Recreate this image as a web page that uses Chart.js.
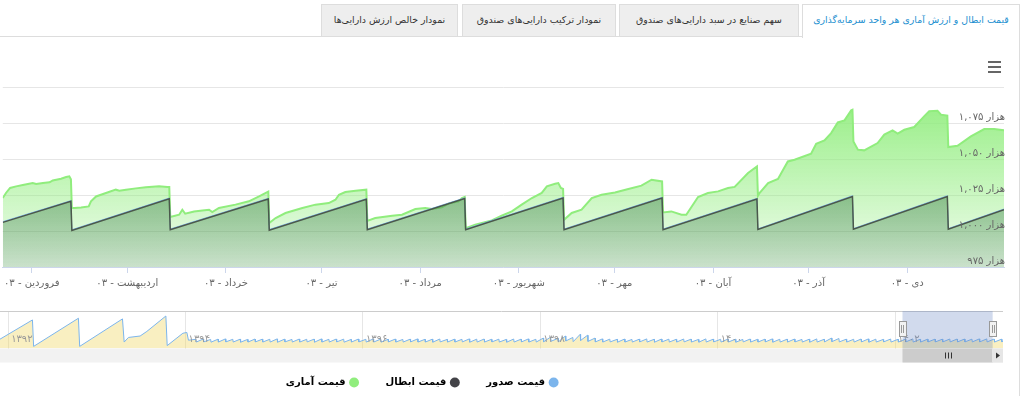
<!DOCTYPE html>
<html lang="fa">
<head>
<meta charset="utf-8">
<title>قیمت ابطال و ارزش آماری هر واحد سرمایه‌گذاری</title>
<script src="https://cdn.jsdelivr.net/npm/chart.js@4.4.1/dist/chart.umd.min.js"></script>
<style>
  html, body { margin: 0; padding: 0; background: #fff; }
  body { width: 1024px; height: 396px; position: relative; overflow: hidden; font-family: "DejaVu Sans", sans-serif; }
  .tabline { position: absolute; left: 0; top: 36px; width: 802px; border-top: 1px solid #ddd; }
  .tab { position: absolute; top: 4px; height: 32px; line-height: 30px; box-sizing: border-box;
         background: #eee; border: 1px solid #ddd; border-bottom: none; font-size: 9.4px; color: #333;
         text-align: center; direction: rtl; white-space: nowrap; }
  .tab.active { background: #fff; color: #1d8fd0; height: 34px; }
  .frame { position: absolute; left: 1019px; top: 36px; height: 360px; border-left: 1px solid #ddd; }
  .menu { position: absolute; left: 988px; top: 61px; width: 13px; }
  .menu span { display: block; height: 2px; background: #666; margin-bottom: 3px; }
  #main { position: absolute; left: 0; top: 40px; }
  #nav { position: absolute; left: -160px; top: 305px; }
</style>
</head>
<body>
<div class="tabline"></div>
<div class="tab" style="left:321px;width:137px;">نمودار خالص ارزش دارایی‌ها</div>
<div class="tab" style="left:462px;width:154px;">نمودار ترکیب دارایی‌های صندوق</div>
<div class="tab" style="left:619px;width:180px;">سهم صنایع در سبد دارایی‌های صندوق</div>
<div class="tab active" style="left:802px;width:218px;">قیمت ابطال و ارزش آماری هر واحد سرمایه‌گذاری</div>
<div class="frame"></div>
<div class="menu"><span></span><span></span><span></span></div>
<canvas id="main" width="1010" height="260"></canvas>
<canvas id="nav" width="1164" height="91"></canvas>
<script>
// روزها از ۱ آوریل ۲۰۲۴ (۱۲ فروردین ۱۴۰۳)
const tickDays = [0, 30, 61, 91, 122, 153, 183, 214, 244, 275];
const monthLabels = ["فروردین - ۰۳", "اردیبهشت - ۰۳", "خرداد - ۰۳", "تیر - ۰۳", "مرداد - ۰۳",
  "شهریور - ۰۳", "مهر - ۰۳", "آبان - ۰۳", "آذر - ۰۳", "دی - ۰۳"];

const seriesNames = ["قیمت صدور", "قیمت ابطال", "قیمت آماری"];
const seriesColors = ["#7cb5ec", "#434348", "#90ed7d"];

// قیمت ابطال و صدور (هزار ریال)
const redDays = [-9.1, 12.3, 12.6, 43.2, 43.5, 74.3, 74.6, 105.1, 105.4, 136.0, 136.3,
  166.9, 167.2, 198.0, 198.3, 227.8, 228.1, 257.8, 258.1, 287.6, 287.9, 305.4];
const redValues = [1006, 1020.6, 1000.4, 1022.4, 1000.9, 1022.2, 1000.6, 1022, 1000.9, 1022.5, 1000.9,
  1022.9, 1000.9, 1022.9, 1000.9, 1022.2, 1001, 1024, 1001.2, 1024, 1001.2, 1014.8];
const issueValues = [1006.5, 1021.1, 1000.9, 1022.9, 1001.4, 1022.7, 1001.1, 1022.5, 1001.4, 1023, 1001.4,
  1023.4, 1001.4, 1023.4, 1001.4, 1022.7, 1001.5, 1024.5, 1001.7, 1024.5, 1001.7, 1015.3];

// قیمت آماری
const statDays = [
  -9.1, -8.1, -6.8, -4.9, -2.8, 0.3, 1.4, 3.5, 5.6, 6.6, 9.2, 10.8, 11.8, 12.3,
  12.6, 13.4, 15.5, 17.9, 18.6, 20.2, 23.3, 26.4, 27.5, 29.6, 32.7, 35.8, 40.0, 42.6, 43.2,
  43.5, 46.3, 47.3, 48.2, 51.0, 53.6, 55.7, 56.7, 58.8, 64.0, 68.2, 71.4, 74.3,
  74.6, 76.6, 79.7, 85.0, 89.1, 93.3, 95.4, 96.5, 98.5, 101.7, 105.1,
  105.4, 107.9, 113.2, 116.3, 120.5, 123.6, 125.7, 128.8, 130.9, 134.1, 135.1, 136.0,
  136.3, 139.3, 144.5, 147.6, 150.8, 153.9, 157.1, 160.2, 161.8, 164.4, 165.4, 166.2, 166.9,
  167.2, 169.6, 172.7, 175.9, 179.0, 183.2, 187.4, 191.5, 194.7, 198.0,
  198.3, 200.9, 204.1, 205.6, 209.3, 212.4, 215.6, 218.7, 220.8, 225.0, 227.8,
  228.1, 228.6, 231.3, 234.4, 237.5, 239.6, 244.8, 246.4, 249.0, 251.1, 253.2, 255.3, 257.4, 257.8,
  258.1, 259.5, 261.5, 265.7, 267.8, 270.4, 272.0, 274.1, 277.2, 280.3, 281.9, 284.5, 285.6, 287.6,
  287.9, 290.8, 295.0, 299.2, 302.3, 305.4];
const statValues = [
  1022.9, 1026.4, 1029.9, 1031, 1031.9, 1033.3, 1032.6, 1033.3, 1033.8, 1035.1, 1036.3, 1037.5, 1038, 1036,
  1016, 1016, 1016.4, 1017.1, 1020.6, 1024, 1026.4, 1028.7, 1028, 1028.7, 1029.6, 1030.3, 1031, 1030.6, 1030.6,
  1009.7, 1011.3, 1014.8, 1012, 1013.6, 1014.3, 1014.8, 1013.2, 1016, 1018.3, 1020.6, 1024, 1027.3,
  1005.6, 1009, 1012.5, 1016, 1018.3, 1019.4, 1021.7, 1025.2, 1027.1, 1028, 1028.7,
  1007, 1009, 1010.6, 1011.3, 1015.3, 1016, 1015.3, 1016.4, 1019, 1020.6, 1022.9, 1023.6,
  1002, 1004.4, 1007.4, 1010.6, 1013.6, 1018.3, 1022.9, 1026.4, 1031, 1032.8, 1033.3, 1029.9, 1029.2,
  1007.8, 1012.5, 1014.8, 1022.9, 1025.2, 1026.8, 1029.2, 1031.5, 1035.6, 1034.4,
  1012.9, 1013.6, 1011.3, 1011.3, 1023.6, 1026.4, 1027.5, 1029.9, 1030.6, 1040.3, 1044.9,
  1024.5, 1026.4, 1033.3, 1036.1, 1048.3, 1049.5, 1053.7, 1060.6, 1062.9, 1068, 1075.4, 1076.8, 1083.8, 1084.2,
  1062.2, 1056.5, 1056, 1061.1, 1066.9, 1069.9, 1067.6, 1070.3, 1072.2, 1079.6, 1083.1, 1083.5, 1080.8, 1080.1,
  1058.3, 1059.2, 1065.7, 1070.8, 1070.8, 1069.9];

// ناوبر: ماه از ژانویه ۲۰۱۴
const navYearTicks = [0, 24, 48, 72, 96, 120];
const navYearLabels = ["۱۳۹۲", "۱۳۹۴", "۱۳۹۶", "۱۳۹۸", "۱۴۰۰", "۱۴۰۲"];
const navEarlyMonths = [-1.1, 3.29, 3.45, 9.51, 9.68, 15.47, 15.7, 16.28, 17.86, 18.77, 21.34, 21.52, 23.64, 24.18, 24.4];
const navEarlyValues = [1022, 1168, 967, 1181, 967, 1176, 1000, 1035, 1046, 1081, 1198, 973, 1067, 1073, 1014];
const navFirstMonth = 25;
const navPeaks = [
  1021, 1023, 1020, 1022, 1024, 1021, 1022, 1020, 1023, 1022,
  1021, 1024, 1022, 1020, 1023, 1021, 1022, 1024, 1021, 1023,
  1022, 1020, 1023, 1021, 1024, 1022, 1021, 1023, 1020, 1022,
  1024, 1021, 1022, 1023, 1020, 1022, 1021, 1024, 1022, 1023,
  1021, 1022, 1020, 1023, 1022, 1024, 1021,
  1030, 1038, 1028, 1046, 1035, 1059, 1052, 1030,
  1024, 1022, 1021, 1023, 1020, 1022, 1024, 1021, 1023, 1022,
  1021, 1023, 1022, 1020, 1024, 1022, 1021, 1023, 1022, 1020,
  1023, 1021, 1022, 1024, 1021, 1022, 1023, 1020, 1022, 1024, 1021,
  1030, 1027,
  1022, 1021, 1023, 1024, 1022, 1020, 1023, 1021, 1022, 1024,
  1021, 1022, 1022, 1022, 1023, 1023, 1023, 1022, 1024, 1024,
  1023, 1022];
const navLows = [
  1000, 1001, 999, 1000, 1001, 1000, 999, 1000, 1001, 1000,
  1000, 999, 1001, 1000, 1000, 1001, 999, 1000, 1000, 1001,
  999, 1000, 1001, 1000, 1000, 999, 1001, 1000, 1000, 1001,
  1000, 1000, 999, 1001, 1000, 1000, 1001, 999, 1000, 1000,
  1001, 1000, 999, 1000, 1001, 1000, 1000,
  1002, 1006, 1001, 1008, 1003, 1012, 1005, 1001,
  1000, 1001, 999, 1000, 1000, 1001, 1000, 999, 1001, 1000,
  1000, 1001, 1000, 999, 1000, 1001, 1000, 1000, 999, 1001,
  1000, 1000, 1001, 999, 1000, 1000, 1001, 1000, 999, 1000, 1001,
  1003, 1001,
  1000, 1000, 1001, 999, 1000, 1001, 1000, 1000, 1001, 1000,
  1000, 1001, 1001, 1001, 1001, 1001, 1001, 1001, 1001, 1001,
  1000, 1001];
const navLastMonth = 134.6;
const navLastValue = 1008;
const navWindow = [121.0, 133.2];

const faDigits = "۰۱۲۳۴۵۶۷۸۹";
const toFa = (n) => n.toLocaleString("en-US").replace(/\d/g, (d) => faDigits[d]);

const toPoints = (xs, ys) => xs.map((x, i) => ({ x: x, y: ys[i] }));

Chart.defaults.font.family = '"DejaVu Sans", sans-serif';

const verticalGradient = (stops) => (context) => {
  const { ctx, chartArea } = context.chart;
  if (!chartArea) return null;
  const g = ctx.createLinearGradient(0, chartArea.top, 0, chartArea.bottom);
  stops.forEach(([pos, color]) => g.addColorStop(pos, color));
  return g;
};

const mainChart = new Chart(document.getElementById("main"), {
  type: "line",
  data: {
    datasets: [
      {
        label: seriesNames[0],
        data: toPoints(redDays, issueValues),
        borderColor: seriesColors[0],
        borderWidth: 1,
        fill: false,
        order: 2,
      },
      {
        label: seriesNames[1],
        data: toPoints(redDays, redValues),
        borderColor: "#4b584b",
        borderWidth: 1.5,
        fill: "start",
        order: 1,
        backgroundColor: verticalGradient([
          [0, "rgba(45,115,60,0.6)"],
          [0.6, "rgba(45,115,60,0.42)"],
          [1, "rgba(45,115,60,0.2)"],
        ]),
      },
      {
        label: seriesNames[2],
        data: toPoints(statDays, statValues),
        borderColor: seriesColors[2],
        borderWidth: 2,
        fill: "start",
        order: 3,
        backgroundColor: verticalGradient([
          [0, "rgba(144,237,125,1)"],
          [1, "rgba(144,237,125,0.12)"],
        ]),
      },
    ],
  },
  options: {
    responsive: false,
    animation: false,
    layout: { padding: { top: 47, left: 0, right: 0, bottom: 0 } },
    elements: { point: { radius: 0 }, line: { tension: 0 } },
    plugins: { legend: { display: false }, tooltip: { enabled: false } },
    scales: {
      x: {
        type: "linear",
        min: -9.1,
        max: 305.4,
        afterBuildTicks: (scale) => {
          scale.ticks = tickDays.map((v) => ({ value: v }));
        },
        afterFit: (scale) => {
          scale.height = 33;
        },
        grid: { drawOnChartArea: false, drawTicks: true, tickLength: 6, color: "#ccd6eb" },
        border: { display: true, color: "#ccd6eb" },
        ticks: {
          autoSkip: false,
          maxRotation: 0,
          color: "#666",
          font: { size: 10 },
          padding: 4,
          callback: (value, index) => monthLabels[index],
        },
      },
      y: {
        position: "right",
        min: 975,
        max: 1100,
        afterFit: (scale) => {
          scale.width = 6;
        },
        grid: { color: "#e6e6e6", drawTicks: false },
        border: { display: false },
        ticks: {
          z: 1,
          stepSize: 25,
          mirror: true,
          padding: 1,
          labelOffset: -6,
          color: "#666",
          font: { size: 10 },
          callback: (value) => (value === 1100 ? "" : "هزار " + toFa(value)),
        },
      },
    },
  },
});

// داده ناوبر
const navPoints = toPoints(navEarlyMonths, navEarlyValues);
navPeaks.forEach((peak, i) => {
  navPoints.push({ x: navFirstMonth + i + 0.4, y: peak });
  navPoints.push({ x: navFirstMonth + i + 0.45, y: navLows[i] });
});
navPoints.push({ x: navLastMonth, y: navLastValue });

const navigatorPlugin = {
  id: "navigatorExtras",
  afterDatasetsDraw(chart) {
    const { ctx, chartArea } = chart;
    const xs = chart.scales.x;
    const left = xs.getPixelForValue(navWindow[0]);
    const right = xs.getPixelForValue(navWindow[1]);
    ctx.save();
    // برچسب سال‌ها
    ctx.fillStyle = "#999";
    ctx.font = '10px "DejaVu Sans", sans-serif';
    ctx.textBaseline = "middle";
    ctx.textAlign = "left";
    navYearTicks.forEach((v, i) => {
      ctx.fillText(navYearLabels[i], xs.getPixelForValue(v) + 3, chartArea.top + 28);
    });
    // خط بالای ناوبر
    ctx.strokeStyle = "#cccccc";
    ctx.lineWidth = 1;
    ctx.beginPath();
    ctx.moveTo(chartArea.left, chartArea.top + 0.5);
    ctx.lineTo(chartArea.right, chartArea.top + 0.5);
    ctx.stroke();
    // ماسک بازه انتخاب‌شده
    ctx.fillStyle = "rgba(102,133,194,0.3)";
    ctx.fillRect(left, chartArea.top, right - left, chartArea.bottom - chartArea.top);
    // دستگیره‌ها
    const hy = chartArea.top + 10;
    [left, right].forEach((hx) => {
      ctx.fillStyle = "#f2f2f2";
      ctx.strokeStyle = "#999";
      ctx.fillRect(hx - 3.5, hy, 7, 15);
      ctx.strokeRect(Math.round(hx - 3.5) + 0.5, hy + 0.5, 7, 15);
      ctx.beginPath();
      ctx.moveTo(Math.round(hx) - 0.5, hy + 4);
      ctx.lineTo(Math.round(hx) - 0.5, hy + 12);
      ctx.moveTo(Math.round(hx) + 1.5, hy + 4);
      ctx.lineTo(Math.round(hx) + 1.5, hy + 12);
      ctx.stroke();
    });
    // نوار پیمایش
    const sy = chartArea.bottom;
    ctx.fillStyle = "#f2f2f2";
    ctx.fillRect(chartArea.left, sy, chartArea.right - chartArea.left, 14);
    ctx.fillStyle = "#cccccc";
    ctx.fillRect(left, sy, right - left, 14);
    ctx.strokeStyle = "#333";
    const mid = Math.round((left + right) / 2);
    [-3, 0, 3].forEach((d) => {
      ctx.beginPath();
      ctx.moveTo(mid + d + 0.5, sy + 4);
      ctx.lineTo(mid + d + 0.5, sy + 10);
      ctx.stroke();
    });
    ctx.fillStyle = "#e6e6e6";
    ctx.fillRect(chartArea.right - 11, sy, 11, 14);
    ctx.fillStyle = "#333";
    ctx.beginPath();
    ctx.moveTo(chartArea.right - 7, sy + 4);
    ctx.lineTo(chartArea.right - 3, sy + 7);
    ctx.lineTo(chartArea.right - 7, sy + 10);
    ctx.closePath();
    ctx.fill();
    ctx.restore();
  },
};

const navChart = new Chart(document.getElementById("nav"), {
  type: "line",
  data: {
    datasets: [
      {
        label: seriesNames[0],
        data: navPoints,
        borderColor: "#7cb5ec",
        borderWidth: 1,
        fill: "start",
        backgroundColor: "rgba(240,215,100,0.4)",
      },
    ],
  },
  options: {
    responsive: false,
    animation: false,
    layout: { padding: { top: 6, left: 0, right: 1, bottom: 8 } },
    elements: { point: { radius: 0 }, line: { tension: 0 } },
    plugins: {
      tooltip: { enabled: false },
      legend: {
        position: "bottom",
        rtl: true,
        textDirection: "rtl",
        labels: {
          usePointStyle: true,
          boxWidth: 7,
          boxHeight: 7,
          padding: 28,
          color: "#333",
          font: { size: 10, weight: "bold" },
          generateLabels: () =>
            seriesNames.map((name, i) => ({
              text: name,
              fillStyle: seriesColors[i],
              strokeStyle: seriesColors[i],
              lineWidth: 0,
              pointStyle: "circle",
              datasetIndex: 0,
            })),
        },
      },
    },
    scales: {
      x: {
        type: "linear",
        min: -1.1,
        max: 134.6,
        afterBuildTicks: (scale) => {
          scale.ticks = navYearTicks.map((v) => ({ value: v }));
        },
        afterFit: (scale) => {
          scale.height = 1;
        },
        grid: { color: "#e6e6e6", drawTicks: false },
        border: { display: false },
        ticks: { display: false },
      },
      y: {
        display: true,
        position: "left",
        min: 951,
        max: 1236,
        afterFit: (scale) => {
          scale.width = 160;
        },
        grid: { display: false },
        border: { display: false },
        ticks: { display: false },
      },
    },
  },
  plugins: [navigatorPlugin],
});
</script>
</body>
</html>
